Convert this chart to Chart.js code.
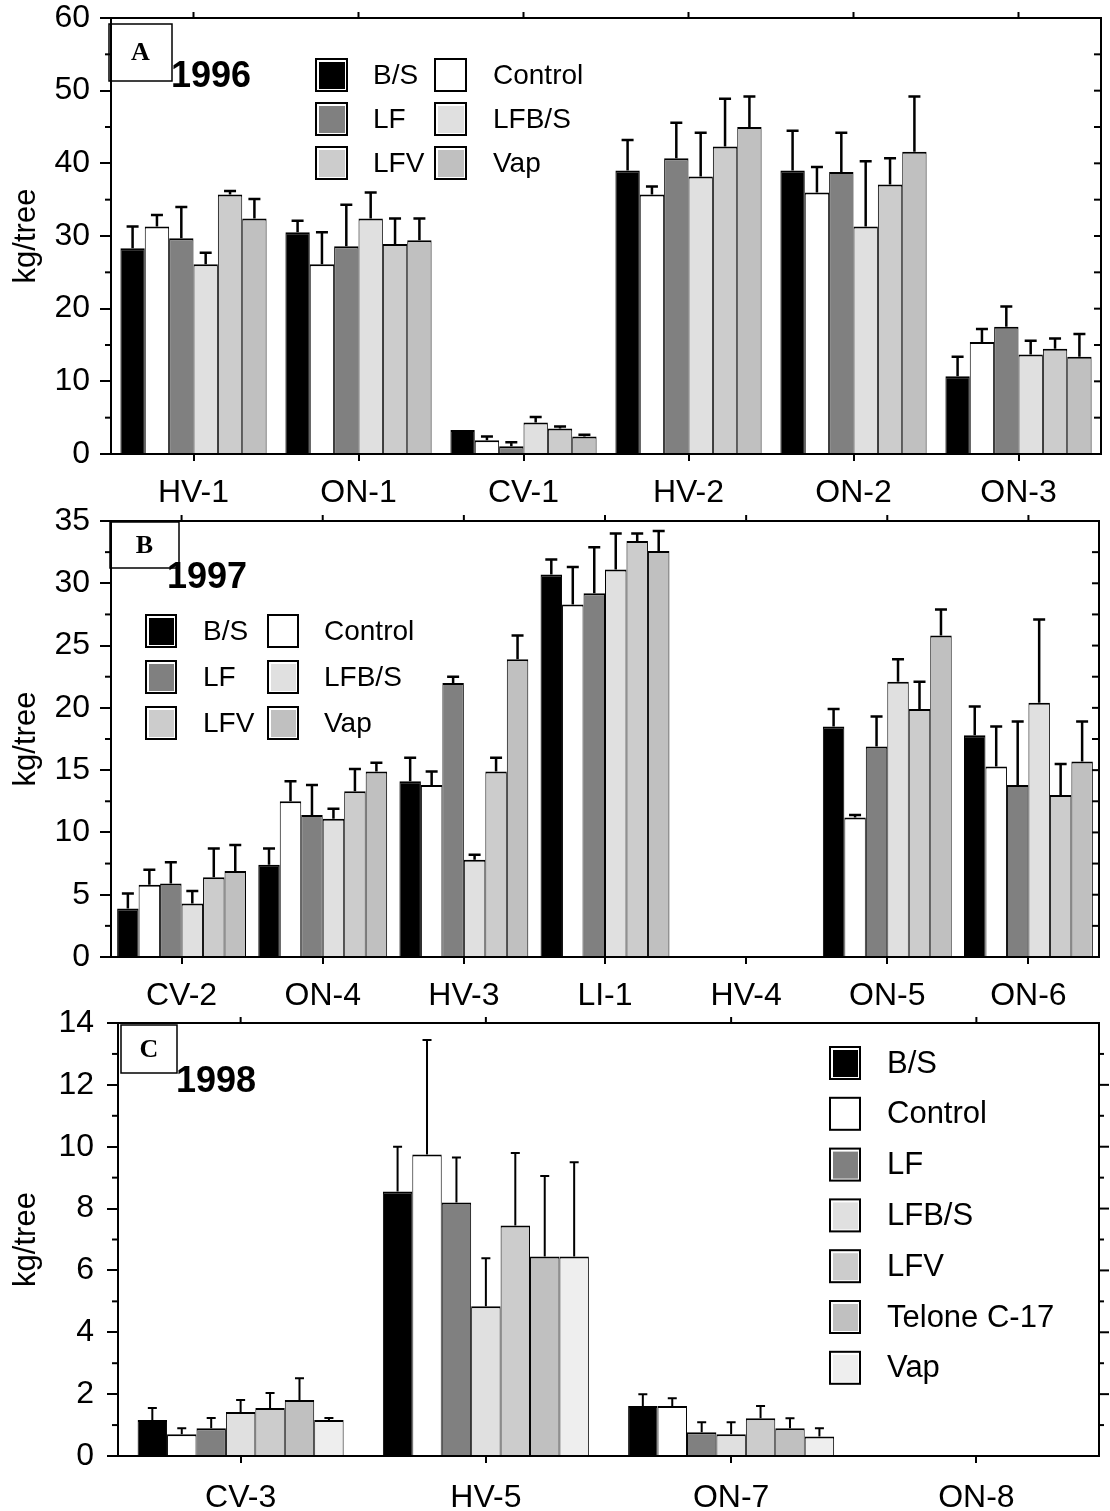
<!DOCTYPE html>
<html>
<head>
<meta charset="utf-8">
<script src="https://cdn.jsdelivr.net/npm/chart.js@4"></script>
<style>
html, body { margin: 0; padding: 0; background: #fff; }
#wrap { position: relative; width: 1110px; height: 1511px; overflow: hidden; background: #fff; }
canvas { position: absolute; left: 0; }
</style>
</head>
<body>
<div id="wrap">
<canvas id="ChartA" width="1110" height="512" style="top:0px"></canvas>
<canvas id="ChartB" width="1110" height="512" style="top:500px"></canvas>
<canvas id="ChartC" width="1110" height="511" style="top:1000px"></canvas>
</div>
<script>
// ---- 1996 (panel A) ----
const sitesA   = ['HV-1', 'ON-1', 'CV-1', 'HV-2', 'ON-2', 'ON-3'];
const bsA      = [28.3, 30.5, 3.3, 39.0, 39.0, 10.7];
const bsErrA   = [3.0, 1.6, 0, 4.2, 5.5, 2.7];
const ctrlA    = [31.3, 26.1, 1.9, 35.7, 36.0, 15.4];
const ctrlErrA = [1.6, 4.4, 0.5, 1.1, 3.5, 1.8];
const lfA      = [29.7, 28.6, 1.05, 40.7, 38.8, 17.5];
const lfErrA   = [4.3, 5.7, 0.55, 4.9, 5.4, 2.8];
const lfbsA    = [26.1, 32.4, 4.35, 38.2, 31.3, 13.7];
const lfbsErrA = [1.6, 3.6, 0.75, 6.0, 9.0, 1.9];
const lfvA     = [35.7, 28.9, 3.5, 42.3, 37.1, 14.5];
const lfvErrA  = [0.5, 3.5, 0.3, 6.6, 3.6, 1.4];
const vapA     = [32.4, 29.4, 2.4, 45.0, 41.6, 13.4];
const vapErrA  = [2.7, 3.0, 0.25, 4.2, 7.6, 3.1];

// ---- 1997 (panel B) ----
const sitesB   = ['CV-2', 'ON-4', 'HV-3', 'LI-1', 'HV-4', 'ON-5', 'ON-6'];
const bsB      = [3.9, 7.4, 14.1, 30.7, null, 18.5, 17.8];
const bsErrB   = [1.2, 1.3, 1.9, 1.2, null, 1.4, 2.3];
const ctrlB    = [5.8, 12.5, 13.8, 28.3, null, 11.2, 15.3];
const ctrlErrB = [1.2, 1.6, 1.1, 3.0, null, 0.2, 3.2];
const lfB      = [5.9, 11.4, 22.0, 29.2, null, 16.9, 13.8];
const lfErrB   = [1.7, 2.4, 0.5, 3.7, null, 2.4, 5.1];
const lfbsB    = [4.3, 11.1, 7.8, 31.1, null, 22.1, 20.4];
const lfbsErrB = [1.0, 0.8, 0.4, 2.9, null, 1.8, 6.7];
const lfvB     = [6.4, 13.3, 14.9, 33.4, null, 19.9, 13.0];
const lfvErrB  = [2.3, 1.8, 1.1, 0.6, null, 2.2, 2.5];
const vapB     = [6.9, 14.9, 23.9, 32.6, null, 25.8, 15.7];
const vapErrB  = [2.1, 0.7, 1.9, 1.6, null, 2.1, 3.2];

// ---- 1998 (panel C) ----
const sitesC     = ['CV-3', 'HV-5', 'ON-7', 'ON-8'];
const bsC        = [1.16, 8.55, 1.62, null];
const bsErrC     = [0.39, 1.45, 0.38, null];
const ctrlC      = [0.70, 9.75, 1.62, null];
const ctrlErrC   = [0.20, 3.70, 0.25, null];
const lfC        = [0.90, 8.20, 0.77, null];
const lfErrC     = [0.33, 1.45, 0.32, null];
const lfbsC      = [1.42, 4.84, 0.70, null];
const lfbsErrC   = [0.39, 1.55, 0.39, null];
const lfvC       = [1.55, 7.45, 1.22, null];
const lfvErrC    = [0.49, 2.35, 0.40, null];
const teloneC    = [1.81, 6.45, 0.90, null];
const teloneErrC = [0.70, 2.60, 0.32, null];
const vapC       = [1.16, 6.45, 0.63, null];
const vapErrC    = [0.07, 3.05, 0.27, null];

const SANS = 'Liberation Sans, Arial, sans-serif';
const SERIF = 'Liberation Serif, Times New Roman, serif';

Chart.defaults.font.family = SANS;
Chart.defaults.color = '#000';

function Series(label, data, errs, fill)
{
    return {
        label: label,
        data: data,
        errs: errs,
        backgroundColor: fill,
        borderColor: '#000',
        borderWidth: { top: 2, left: 1, right: 1, bottom: 0 },
        barPercentage: 1.0
    };
}

// draws error bars, frame, extra ticks, panel tag and legend
function MakeDecor(cfg)
{
    return {
        id: 'decor',
        afterDatasetsDraw(chart)
        {
            const ctx = chart.ctx;
            const area = chart.chartArea;
            const xs = chart.scales.x;
            const ys = chart.scales.y;
            ctx.save();
            ctx.strokeStyle = '#000';
            ctx.fillStyle = '#000';

            // error bars (upper only)
            ctx.lineWidth = cfg.errWidth;
            chart.data.datasets.forEach((ds, i) =>
            {
                const meta = chart.getDatasetMeta(i);
                meta.data.forEach((bar, j) =>
                {
                    const v = ds.data[j];
                    const e = ds.errs[j];
                    if (v == null || !e) return;
                    const yTop = ys.getPixelForValue(v + e);
                    ctx.beginPath();
                    ctx.moveTo(bar.x, bar.y);
                    ctx.lineTo(bar.x, yTop);
                    ctx.moveTo(bar.x - cfg.cap / 2, yTop);
                    ctx.lineTo(bar.x + cfg.cap / 2, yTop);
                    ctx.stroke();
                });
            });

            // top and right frame lines
            ctx.lineWidth = 2;
            ctx.beginPath();
            ctx.moveTo(area.left - 1, area.top);
            ctx.lineTo(area.right, area.top);
            ctx.lineTo(area.right, area.bottom + 1);
            ctx.stroke();

            // top ticks at category centres
            chart.data.labels.forEach((_, j) =>
            {
                const x = xs.getPixelForValue(j);
                ctx.beginPath();
                ctx.moveTo(x, area.top);
                ctx.lineTo(x, area.top - 6);
                ctx.stroke();
            });

            // minor ticks on left, ticks on right
            const minor = cfg.step / 2;
            for (let v = minor; v < cfg.max; v += minor)
            {
                const y = ys.getPixelForValue(v);
                const isMajor = Math.abs(v / cfg.step - Math.round(v / cfg.step)) < 1e-6;
                if (!isMajor)
                {
                    ctx.beginPath();
                    ctx.moveTo(area.left, y);
                    ctx.lineTo(area.left - 6, y);
                    ctx.stroke();
                }
                const len = isMajor ? cfg.rightMajor : cfg.rightMinor;
                ctx.beginPath();
                ctx.moveTo(area.right, y);
                ctx.lineTo(area.right + cfg.rightDir * len, y);
                ctx.stroke();
            }

            // panel tag box
            ctx.lineWidth = 1.5;
            ctx.strokeRect(cfg.box[0], cfg.box[1], cfg.box[2], cfg.box[3]);
            ctx.font = 'bold 26px ' + SERIF;
            ctx.textAlign = 'center';
            ctx.textBaseline = 'middle';
            ctx.fillText(cfg.tag, cfg.box[0] + cfg.box[2] / 2, cfg.box[1] + cfg.box[3] / 2 + 1);

            // year
            ctx.font = 'bold 36px ' + SANS;
            ctx.textAlign = 'left';
            ctx.textBaseline = 'alphabetic';
            ctx.fillText(cfg.year, cfg.yearPos[0], cfg.yearPos[1]);

            // legend
            const lg = cfg.legend;
            ctx.font = lg.font + 'px ' + SANS;
            ctx.textBaseline = 'middle';
            chart.data.datasets.forEach((ds, k) =>
            {
                const col = k % lg.cols;
                const row = Math.floor(k / lg.cols);
                const sx = lg.boxX[col];
                const cy = lg.rowY0 + row * lg.rowStep;
                const sy = cy - lg.boxH / 2;
                ctx.fillStyle = '#fff';
                ctx.fillRect(sx, sy, lg.boxW, lg.boxH);
                ctx.fillStyle = ds.backgroundColor;
                ctx.fillRect(sx + 3, sy + 3, lg.boxW - 5, lg.boxH - 5);
                ctx.lineWidth = 2;
                ctx.strokeRect(sx, sy, lg.boxW, lg.boxH);
                ctx.fillStyle = '#000';
                ctx.fillText(ds.label, lg.textX[col], cy + 1);
            });

            ctx.restore();
        }
    };
}

function BuildChart(canvasId, labels, datasets, p)
{
    const ctx = document.getElementById(canvasId).getContext('2d');
    return new Chart(ctx,
    {
        type: 'bar',
        data: { labels: labels, datasets: datasets },
        options:
        {
            responsive: false,
            animation: false,
            events: [],
            categoryPercentage: p.catPct,
            layout: { padding: { top: p.top, right: p.right, left: 0, bottom: 0 } },
            plugins:
            {
                legend: { display: false },
                tooltip: { enabled: false }
            },
            scales:
            {
                x:
                {
                    afterFit(scale) { scale.height = p.xHeight; },
                    border: { display: true, color: '#000', width: 2 },
                    grid: { drawOnChartArea: false, offset: false, tickLength: 7, color: '#000', lineWidth: 2 },
                    ticks: { color: '#000', font: { family: SANS, size: 32 }, padding: p.xPad, autoSkip: false, maxRotation: 0 }
                },
                y:
                {
                    min: 0,
                    max: p.max,
                    afterFit(scale) { scale.width = p.yWidth; },
                    border: { display: true, color: '#000', width: 2 },
                    grid: { drawOnChartArea: false, tickLength: 11, color: '#000', lineWidth: 2 },
                    // small lineHeight keeps the top label from pushing the plot area down
                    ticks: { stepSize: p.step, color: '#000', font: { family: SANS, size: 32, lineHeight: 0.5 }, padding: p.yPad },
                    title: { display: true, text: 'kg/tree', color: '#000', font: { family: SANS, size: 31 }, padding: { top: 8, bottom: 0 } }
                }
            }
        },
        plugins: [MakeDecor(p.decor)]
    });
}

BuildChart('ChartA', sitesA,
[
    Series('B/S', bsA, bsErrA, '#000000'),
    Series('Control', ctrlA, ctrlErrA, '#ffffff'),
    Series('LF', lfA, lfErrA, '#808080'),
    Series('LFB/S', lfbsA, lfbsErrA, '#e0e0e0'),
    Series('LFV', lfvA, lfvErrA, '#cccccc'),
    Series('Vap', vapA, vapErrA, '#c0c0c0')
],
{
    catPct: 0.886, top: 18, right: 9, xHeight: 58, yWidth: 111, max: 60, step: 10, xPad: 13, yPad: 10,
    decor:
    {
        errWidth: 2.5, cap: 12, max: 60, step: 10, rightDir: -1, rightMajor: 7, rightMinor: 7,
        box: [109, 24, 63, 57], tag: 'A', year: '1996', yearPos: [171, 87],
        legend: { cols: 2, boxX: [316, 435], textX: [373, 493], rowY0: 75, rowStep: 44, boxW: 31, boxH: 32, font: 28 }
    }
});

BuildChart('ChartB', sitesB,
[
    Series('B/S', bsB, bsErrB, '#000000'),
    Series('Control', ctrlB, ctrlErrB, '#ffffff'),
    Series('LF', lfB, lfErrB, '#808080'),
    Series('LFB/S', lfbsB, lfbsErrB, '#e0e0e0'),
    Series('LFV', lfvB, lfvErrB, '#cccccc'),
    Series('Vap', vapB, vapErrB, '#c0c0c0')
],
{
    catPct: 0.913, top: 21, right: 11, xHeight: 55, yWidth: 111, max: 35, step: 5, xPad: 13, yPad: 10,
    decor:
    {
        errWidth: 2.5, cap: 12, max: 35, step: 5, rightDir: -1, rightMajor: 7, rightMinor: 7,
        box: [110, 22, 69, 46], tag: 'B', year: '1997', yearPos: [167, 88],
        legend: { cols: 2, boxX: [146, 268], textX: [203, 324], rowY0: 131, rowStep: 46, boxW: 30, boxH: 32, font: 28 }
    }
});

BuildChart('ChartC', sitesC,
[
    Series('B/S', bsC, bsErrC, '#000000'),
    Series('Control', ctrlC, ctrlErrC, '#ffffff'),
    Series('LF', lfC, lfErrC, '#808080'),
    Series('LFB/S', lfbsC, lfbsErrC, '#e0e0e0'),
    Series('LFV', lfvC, lfvErrC, '#cccccc'),
    Series('Telone C-17', teloneC, teloneErrC, '#c0c0c0'),
    Series('Vap', vapC, vapErrC, '#eeeeee')
],
{
    catPct: 0.84, top: 23, right: 11, xHeight: 55, yWidth: 118, max: 14, step: 2, xPad: 16, yPad: 13,
    decor:
    {
        errWidth: 2, cap: 9, max: 14, step: 2, rightDir: 1, rightMajor: 10, rightMinor: 5,
        box: [121, 25, 56, 48], tag: 'C', year: '1998', yearPos: [176, 92],
        legend: { cols: 1, boxX: [830], textX: [887], rowY0: 63, rowStep: 50.8, boxW: 30, boxH: 32, font: 31 }
    }
});
</script>
</body>
</html>
